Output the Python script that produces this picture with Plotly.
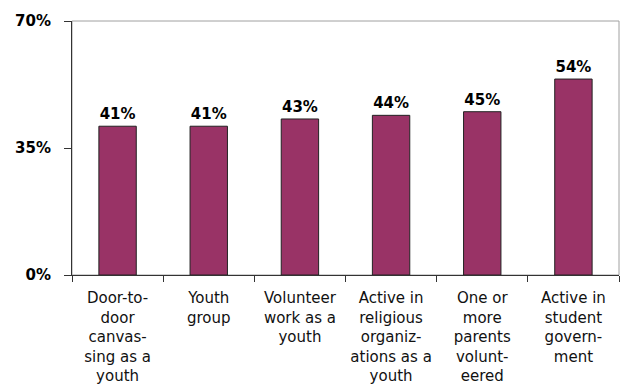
import plotly.graph_objects as go

categories = [
    "Door-to-<br>door<br>canvas-<br>sing as a<br>youth",
    "Youth<br>group",
    "Volunteer<br>work as a<br>youth",
    "Active in<br>religious<br>organiz-<br>ations as a<br>youth",
    "One or<br>more<br>parents<br>volunt-<br>eered",
    "Active in<br>student<br>govern-<br>ment",
]
values = [41, 41, 43, 44, 45, 54]
labels = [f"{v}%" for v in values]
y_ticks = [0, 35, 70]
y_ticklabels = ["0%", "35%", "70%"]

fig = go.Figure(
    go.Bar(
        x=categories,
        y=values,
        text=labels,
        textposition="outside",
        textfont=dict(family="DejaVu Sans", size=15, color="black", weight="bold"),
        marker=dict(color="#993366", line=dict(color="#222222", width=1)),
        width=0.41,
        cliponaxis=False,
    )
)

fig.update_layout(
    width=628,
    height=385,
    margin=dict(l=72, r=9, t=21, b=110),
    paper_bgcolor="white",
    plot_bgcolor="white",
    showlegend=False,
    font=dict(family="DejaVu Sans", color="black"),
    shapes=[
        dict(type="rect", xref="paper", yref="paper", x0=0, x1=1, y0=0, y1=1,
             line=dict(color="#a0a0a0", width=1), layer="below"),
    ],
)

fig.update_xaxes(
    showline=True,
    linecolor="#333333",
    linewidth=1,
    ticks="outside",
    ticklen=6,
    tickcolor="#333333",
    tickson="boundaries",
    ticklabelstandoff=9,
    automargin=False,
    tickfont=dict(size=15, family="DejaVu Sans", color="#111111"),
    showgrid=False,
)

fig.update_yaxes(
    range=[0, 70],
    tickvals=y_ticks,
    ticktext=y_ticklabels,
    showline=True,
    linecolor="#333333",
    linewidth=1,
    ticks="outside",
    ticklen=7,
    tickcolor="#333333",
    ticklabelstandoff=10,
    automargin=False,
    tickfont=dict(size=15, family="DejaVu Sans", weight="bold"),
    showgrid=False,
    zeroline=False,
)

fig.write_html("out.html")
